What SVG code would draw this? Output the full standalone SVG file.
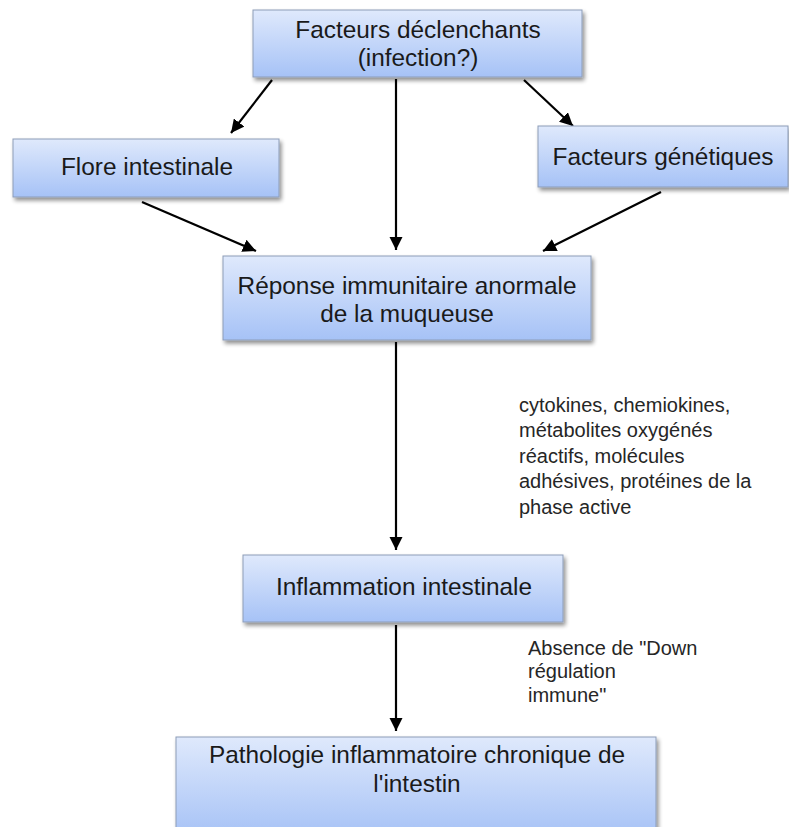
<svg xmlns="http://www.w3.org/2000/svg" width="789" height="827" viewBox="0 0 789 827">
  <defs>
    <linearGradient id="boxFill" x1="0" y1="0" x2="0" y2="1">
      <stop offset="0" stop-color="#dfe9fc"/>
      <stop offset="1" stop-color="#a6c2f6"/>
    </linearGradient>
    <filter id="shadow" x="-10%" y="-10%" width="125%" height="140%">
      <feGaussianBlur in="SourceAlpha" stdDeviation="2"/>
      <feOffset dx="2" dy="3" result="b"/>
      <feComponentTransfer><feFuncA type="linear" slope="0.45"/></feComponentTransfer>
      <feMerge><feMergeNode/><feMergeNode in="SourceGraphic"/></feMerge>
    </filter>
    <marker id="arrow" viewBox="0 0 10 10" refX="10" refY="5" markerWidth="6" markerHeight="6" orient="auto" markerUnits="strokeWidth">
      <path d="M0,0 L10,5 L0,10 z" fill="#000"/>
    </marker>
  </defs>
  <style>
    .box { fill: url(#boxFill); stroke: #8d9db8; stroke-width: 1; filter: url(#shadow); }
    .lbl { font-family: "Liberation Sans", Arial, sans-serif; font-size: 24.4px; fill: #1a1a1a; text-anchor: middle; }
    .note { font-family: "Liberation Sans", Arial, sans-serif; font-size: 20px; fill: #262626; }
    .link { stroke: #000; stroke-width: 2.2; fill: none; marker-end: url(#arrow); }
  </style>
  <rect width="789" height="827" fill="#fff"/>

  <g id="connectors">
    <line class="link" x1="272" y1="80" x2="231" y2="133"/>
    <line class="link" x1="396" y1="79" x2="396" y2="250"/>
    <line class="link" x1="524" y1="80" x2="573" y2="126"/>
    <line class="link" x1="142" y1="202" x2="256" y2="251"/>
    <line class="link" x1="661" y1="192" x2="543" y2="251"/>
    <line class="link" x1="396" y1="342" x2="396" y2="550"/>
    <line class="link" x1="396" y1="625" x2="396" y2="731"/>
  </g>

  <g id="facteurs-declenchants">
    <rect class="box" x="253" y="10" width="329" height="67"/>
    <text class="lbl" x="418" y="38">Facteurs déclenchants</text>
    <text class="lbl" x="418" y="66">(infection?)</text>
  </g>

  <g id="flore-intestinale">
    <rect class="box" x="13" y="139" width="266" height="58"/>
    <text class="lbl" x="147" y="175">Flore intestinale</text>
  </g>

  <g id="facteurs-genetiques">
    <rect class="box" x="538" y="126" width="250" height="61"/>
    <text class="lbl" x="663" y="165">Facteurs génétiques</text>
  </g>

  <g id="reponse-immunitaire">
    <rect class="box" x="223" y="256" width="368" height="84"/>
    <text class="lbl" x="407" y="294">Réponse immunitaire anormale</text>
    <text class="lbl" x="407" y="322">de la muqueuse</text>
  </g>

  <g id="inflammation-intestinale">
    <rect class="box" x="243" y="555" width="320" height="67"/>
    <text class="lbl" x="404" y="595">Inflammation intestinale</text>
  </g>

  <g id="pathologie-chronique">
    <rect class="box" x="176" y="737" width="480" height="100"/>
    <text class="lbl" x="417" y="763">Pathologie inflammatoire chronique de</text>
    <text class="lbl" x="417" y="792">l'intestin</text>
  </g>

  <g id="mediateurs">
    <text class="note" x="519" y="412">cytokines, chemiokines,</text>
    <text class="note" x="519" y="437">métabolites oxygénés</text>
    <text class="note" x="519" y="463">réactifs, molécules</text>
    <text class="note" x="519" y="488">adhésives, protéines de la</text>
    <text class="note" x="519" y="514">phase active</text>
  </g>

  <g id="absence-regulation">
    <text class="note" x="528" y="655">Absence de "Down</text>
    <text class="note" x="528" y="678">régulation</text>
    <text class="note" x="528" y="702">immune"</text>
  </g>
</svg>
